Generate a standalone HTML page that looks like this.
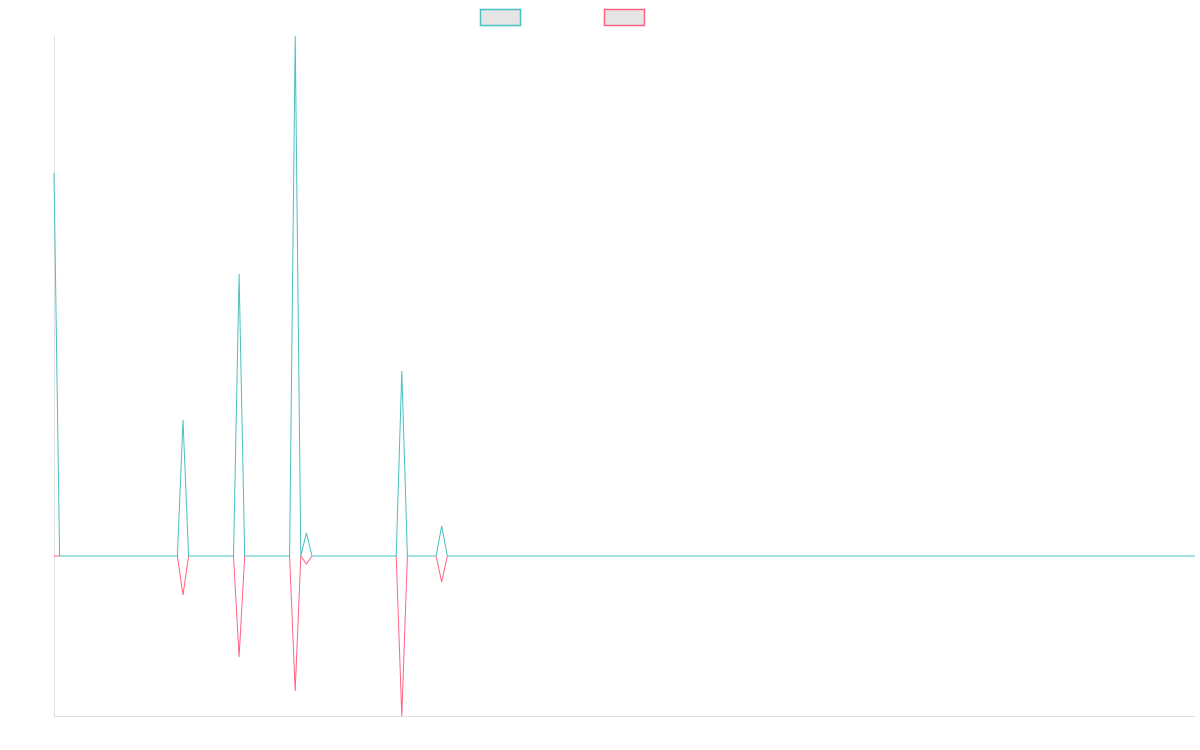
<!DOCTYPE html>
<html><head><style>body{margin:0;background:#fff}svg{display:block}</style></head><body>
<svg width="1200" height="750" xmlns="http://www.w3.org/2000/svg">
<rect x="480.5" y="9.5" width="40" height="16" fill="#e5e5e5" stroke="#4bc0c0" stroke-width="1.5"/>
<rect x="604.5" y="9.5" width="40" height="16" fill="#e5e5e5" stroke="#ff6384" stroke-width="1.5"/>
<line x1="54.5" y1="36" x2="54.5" y2="716" stroke="#e0e0e0"/>
<line x1="54" y1="716.5" x2="1195" y2="716.5" stroke="#e0e0e0"/>
<polyline fill="none" stroke="#ff6384" stroke-width="1" points="54,556 177.4,556 183,595 188.6,556 233.5,556 239.1,657 244.7,556 289.6,556 295.2,691 300.8,556 306.4,564 312,556 396.2,556 401.8,716 407.4,556 436.1,556 441.7,582 447.3,556 1195,556"/>
<polyline fill="none" stroke="#4bc0c0" stroke-width="1" points="54,173 59.6,556 177.4,556 183,420 188.6,556 233.5,556 239.1,274 244.7,556 289.6,556 295.2,36 300.8,556 306.4,533 312,556 396.2,556 401.8,371 407.4,556 436.1,556 441.7,526 447.3,556 1195,556"/>
</svg>
</body></html>
